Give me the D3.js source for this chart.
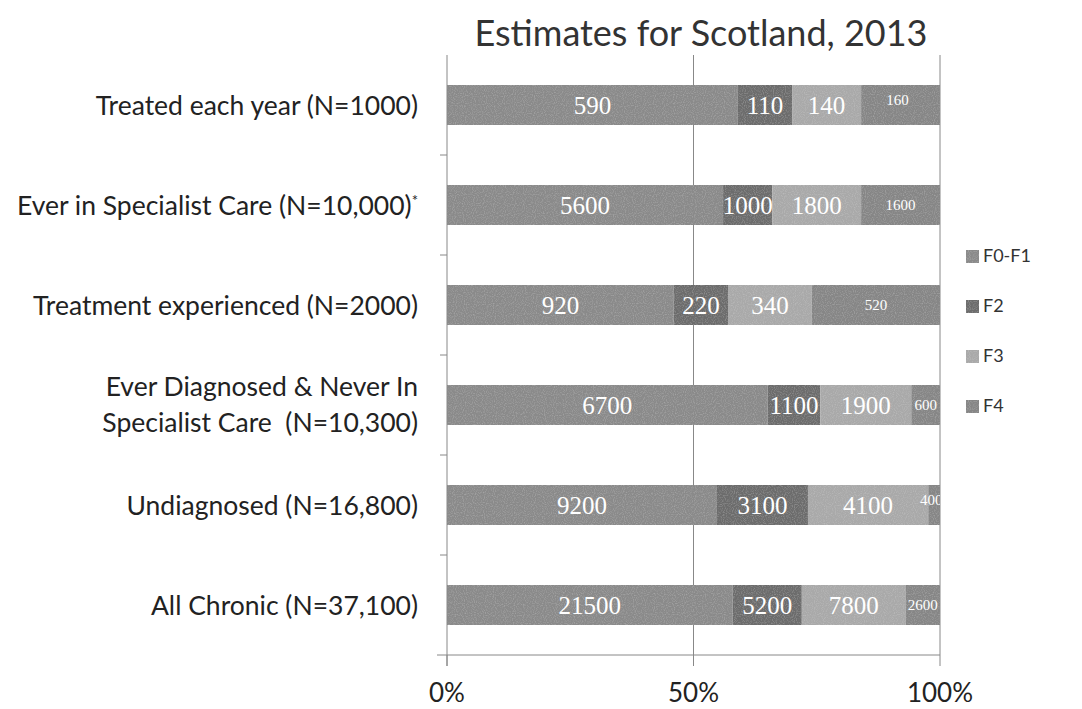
<!DOCTYPE html>
<html lang="en">
<head>
<meta charset="UTF-8">
<title>Estimates for Scotland, 2013</title>
<script src="https://cdn.jsdelivr.net/npm/d3@7"></script>
<style>
  body { margin: 0; background: #fff; }
  svg text { font-family: Lato, "Open Sans", sans-serif; }
</style>
</head>
<body>
<div id="chart"></div>
<script>
// categories top to bottom
const categories = [
  'Treated each year (N=1000)',
  'Ever in Specialist Care (N=10,000)',
  'Treatment experienced (N=2000)',
  'Ever Diagnosed & Never In|Specialist Care  (N=10,300)',
  'Undiagnosed (N=16,800)',
  'All Chronic (N=37,100)'
]
const stages = ['F0-F1', 'F2', 'F3', 'F4']
const f0f1 = [590, 5600, 920, 6700, 9200, 21500]
const f2 = [110, 1000, 220, 1100, 3100, 5200]
const f3 = [140, 1800, 340, 1900, 4100, 7800]
const f4 = [160, 1600, 520, 600, 400, 2600]
const xTicks = [0, 0.5, 1]

const width = 1082, height = 709
const x0 = 447, x1 = 940

let rows = categories.map((c, i) => {
  let vals = [f0f1[i], f2[i], f3[i], f4[i]]
  return { name: c, vals: vals, total: d3.sum(vals) }
})

let x = d3.scaleLinear().domain([0, 1]).range([x0, x1])
let y = d3.scaleBand().domain(categories).range([55, 655]).paddingInner(0.6).paddingOuter(0.3)

let color = d3.scaleOrdinal().domain(stages).range(['#8a8a8a', '#6c6c6c', '#a9a9a9', '#868686'])

let svg = d3.select('#chart').append('svg')
  .attr('width', width).attr('height', height)

let defs = svg.append('defs')
defs.append('clipPath').attr('id', 'plotclip')
  .append('rect').attr('x', x0).attr('y', 0).attr('width', x1 - x0).attr('height', height)

// speckle, like the scanned original
let noise = defs.append('filter').attr('id', 'speckle')
  .attr('x', 0).attr('y', 0).attr('width', 1).attr('height', 1)
noise.append('feTurbulence')
  .attr('type', 'fractalNoise').attr('baseFrequency', 0.9).attr('numOctaves', 1).attr('seed', 3)
  .attr('result', 'n')
noise.append('feColorMatrix').attr('in', 'n').attr('type', 'matrix')
  .attr('values', '0 0 0 0 1  0 0 0 0 1  0 0 0 0 1  1.2 0 0 0 -0.55')
  .attr('result', 'dots')
noise.append('feComposite').attr('in', 'dots').attr('in2', 'SourceGraphic').attr('operator', 'in').attr('result', 'd2')
noise.append('feComponentTransfer').attr('in', 'd2').attr('result', 'd3')
  .append('feFuncA').attr('type', 'linear').attr('slope', 0.35)
let m = noise.append('feMerge')
m.append('feMergeNode').attr('in', 'SourceGraphic')
m.append('feMergeNode').attr('in', 'd3')

svg.append('text')
  .attr('x', 701).attr('y', 46)
  .attr('text-anchor', 'middle')
  .style('font-size', '36px').style('fill', '#333')
  .text('Estimates for Scotland, 2013')

// gridlines at 50% and 100%
svg.selectAll('.grid')
  .data([0.5, 1])
  .join('line')
  .attr('x1', d => x(d)).attr('x2', d => x(d))
  .attr('y1', 55).attr('y2', 655)
  .attr('stroke', '#888').attr('stroke-width', 1)

// stacked segments
let segs = []
rows.forEach(r => {
  let acc = 0
  r.vals.forEach((v, j) => {
    segs.push({ row: r.name, stage: stages[j], value: v, start: acc / r.total, end: (acc + v) / r.total })
    acc += v
  })
})

let bars = svg.append('g').attr('clip-path', 'url(#plotclip)')

bars.append('g').selectAll('rect')
  .data(segs)
  .join('rect')
  .attr('x', d => x(d.start))
  .attr('width', d => x(d.end) - x(d.start))
  .attr('y', d => y(d.row))
  .attr('height', y.bandwidth())
  .attr('fill', d => color(d.stage))
  .attr('filter', 'url(#speckle)')

bars.append('g').selectAll('text')
  .data(segs)
  .join('text')
  .attr('x', d => (x(d.start) + x(d.end)) / 2 - (d.stage === 'F4' && d.value < 500 ? 3 : 0))
  .attr('y', d => y(d.row) + y.bandwidth() / 2 + (d.stage === 'F4' && d.value < 500 ? -5 : 0))
  .attr('dy', '0.36em')
  .attr('text-anchor', 'middle')
  .style('fill', '#fff')
  .style('font-family', '"Liberation Serif", serif')
  .style('font-size', d => d.stage === 'F4' ? '15px' : '25px')
  .text(d => d.value)

// category axis
let yAxis = svg.append('g')
yAxis.append('line')
  .attr('x1', x0).attr('x2', x0).attr('y1', 55).attr('y2', 666)
  .attr('stroke', '#888')
yAxis.selectAll('.tick')
  .data(d3.range(1, 6))
  .join('line')
  .attr('x1', x0 - 7).attr('x2', x0)
  .attr('y1', i => 55 + i * y.step()).attr('y2', i => 55 + i * y.step())
  .attr('stroke', '#888')

let labels = yAxis.selectAll('.lab')
  .data(categories)
  .join('text')
  .attr('text-anchor', 'end')
  .attr('x', 418)
  .attr('y', d => y(d) + y.bandwidth() / 2)
  .style('font-size', '26.5px').style('fill', '#222')

labels.each(function(d) {
  let parts = d.split('|')
  let t = d3.select(this)
  parts.forEach((p, k) => {
    t.append('tspan')
      .attr('x', 418)
      .attr('dy', parts.length === 1 ? '0.36em' : (k === 0 ? '-0.34em' : '1.36em'))
      .style('white-space', 'pre')
      .text(p)
  })
  if (d.startsWith('Ever in')) {
    t.append('tspan').attr('dy', '-0.6em').style('font-size', '15px').text('*')
  }
})

// x axis
let xAxis = svg.append('g')
xAxis.append('line')
  .attr('x1', 437).attr('x2', x1).attr('y1', 655).attr('y2', 655)
  .attr('stroke', '#888')
xAxis.selectAll('.xt')
  .data(xTicks)
  .join('line')
  .attr('x1', d => x(d)).attr('x2', d => x(d))
  .attr('y1', 655).attr('y2', 666)
  .attr('stroke', '#888')
xAxis.selectAll('.xl')
  .data(xTicks)
  .join('text')
  .attr('x', d => x(d)).attr('y', 702)
  .attr('text-anchor', 'middle')
  .style('font-size', '26px').style('fill', '#222')
  .text(d3.format('.0%'))

// legend
let legend = svg.append('g').attr('transform', 'translate(966,256)')
let item = legend.selectAll('g')
  .data(stages)
  .join('g')
  .attr('transform', (d, i) => `translate(0,${i * 50})`)
item.append('rect')
  .attr('x', 0).attr('y', -6).attr('width', 13).attr('height', 13)
  .attr('fill', d => color(d))
  .attr('filter', 'url(#speckle)')
item.append('text')
  .attr('x', 17).attr('dy', '0.36em')
  .style('font-size', '18px').style('fill', '#333')
  .text(d => d)
</script>
</body>
</html>
